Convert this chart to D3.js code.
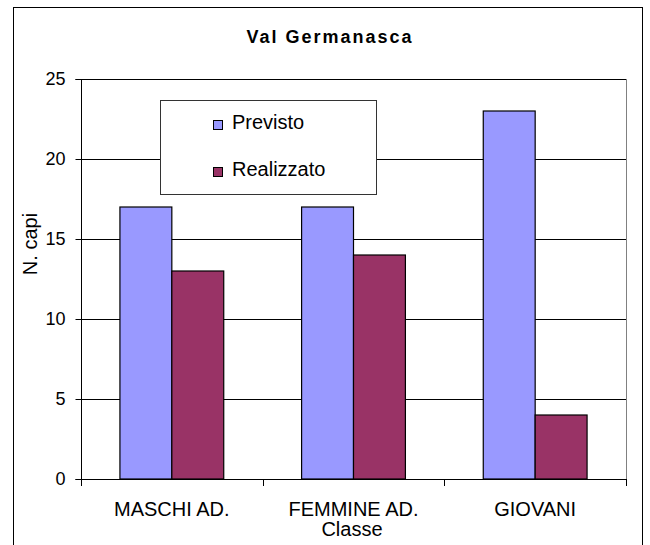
<!DOCTYPE html>
<html>
<head>
<meta charset="utf-8">
<script src="https://cdn.jsdelivr.net/npm/d3@7"></script>
<style>
  body { margin: 0; background: #fff; }
  text { font-family: "Liberation Sans", Arial, sans-serif; fill: #000; }
</style>
</head>
<body>
<svg id="chart" width="650" height="545"></svg>
<script>
const categories = ["MASCHI AD.", "FEMMINE AD.", "GIOVANI"];
const seriesNames = ["Previsto", "Realizzato"];
const previsto = [17, 17, 23];
const realizzato = [13, 14, 4];
const yTicks = [0, 5, 10, 15, 20, 25];
const colors = ["#9999FF", "#993366"];

const svg = d3.select("#chart");

// outer frame
svg.append("rect").attr("x", 13.5).attr("y", 7.5).attr("width", 629).attr("height", 560)
  .attr("fill", "none").attr("stroke", "#000").attr("stroke-width", 1);

const plot = { left: 81, right: 626, top: 79, bottom: 479 };

const x0 = d3.scaleBand().domain(categories).range([plot.left, plot.right]).paddingInner(0).paddingOuter(0);
const bw = x0.bandwidth() / 3.5;
const x1 = d3.scaleBand().domain(seriesNames).range([0.75 * bw, 2.75 * bw]);
const y = d3.scaleLinear().domain([0, 25]).range([plot.bottom, plot.top]);

// plot area border (right side gray)
svg.append("line").attr("x1", plot.right + 0.5).attr("x2", plot.right + 0.5)
  .attr("y1", plot.top).attr("y2", plot.bottom).attr("stroke", "#808080");

// gridlines
svg.append("g").selectAll("line").data(yTicks.filter(d => d > 0)).join("line")
  .attr("x1", plot.left).attr("x2", plot.right)
  .attr("y1", d => Math.round(y(d)) + 0.5).attr("y2", d => Math.round(y(d)) + 0.5)
  .attr("stroke", "#000");

// bars
const data = categories.map((c, i) => ({ cat: c, vals: [previsto[i], realizzato[i]] }));
const groups = svg.append("g").selectAll("g").data(data).join("g")
  .attr("transform", d => `translate(${x0(d.cat)},0)`);
groups.selectAll("rect").data(d => d.vals.map((v, j) => ({ v, s: seriesNames[j], j })))
  .join("rect")
  .attr("x", d => x1(d.s))
  .attr("y", d => y(d.v))
  .attr("width", x1.bandwidth())
  .attr("height", d => y(0) - y(d.v))
  .attr("fill", d => colors[d.j])
  .attr("stroke", "#000").attr("stroke-width", 1.2);

// y axis
const yAxis = d3.axisLeft(y).tickValues(yTicks).tickSize(6).tickPadding(10);
const gy = svg.append("g").attr("transform", `translate(${plot.left + 0.5},0)`).call(yAxis);
gy.selectAll("text").style("font-size", "18px").style("font-family", "Liberation Sans, Arial, sans-serif");
gy.selectAll("line").attr("stroke", "#000");
gy.select(".domain").attr("stroke", "#000").attr("d", `M-6,${plot.top + 0.5}H0V${plot.bottom + 0.5}H-6`);

// x axis
const xAxis = d3.axisBottom(x0).tickSize(0).tickPadding(0).tickFormat("");
const gx = svg.append("g").attr("transform", `translate(0,${plot.bottom + 0.5})`).call(xAxis);
gx.select(".domain").attr("stroke", "#000").attr("d", `M${plot.left},0H${plot.right}`);
gx.selectAll(".tick").remove();
// boundary ticks
const bounds = categories.map(c => x0(c)).concat([plot.right]);
svg.append("g").selectAll("line").data(bounds).join("line")
  .attr("x1", d => Math.round(d) + 0.5).attr("x2", d => Math.round(d) + 0.5)
  .attr("y1", plot.bottom).attr("y2", plot.bottom + 7).attr("stroke", "#000");
// category labels
svg.append("g").selectAll("text").data(categories).join("text")
  .attr("x", d => x0(d) + x0.bandwidth() / 2)
  .attr("y", 516).attr("text-anchor", "middle").style("font-size", "20px").text(d => d);

// axis titles
svg.append("text").attr("x", 352).attr("y", 536).attr("text-anchor", "middle")
  .style("font-size", "20px").text("Classe");
svg.append("text").attr("transform", "translate(37,244) rotate(-90)").attr("text-anchor", "middle")
  .style("font-size", "20px").text("N. capi");

// title
svg.append("text").attr("x", 330).attr("y", 43).attr("text-anchor", "middle")
  .style("font-size", "18px").style("font-weight", "bold").style("letter-spacing", "2px")
  .text("Val Germanasca");

// legend
const lg = svg.append("g");
lg.append("rect").attr("x", 160.5).attr("y", 100.5).attr("width", 216).attr("height", 94)
  .attr("fill", "#fff").attr("stroke", "#333");
const items = lg.selectAll("g").data(seriesNames).join("g")
  .attr("transform", (d, i) => `translate(213,${120 + i * 47})`);
items.append("rect").attr("x", 0.5).attr("y", 0.5).attr("width", 9).attr("height", 9)
  .attr("fill", (d, i) => colors[i]).attr("stroke", "#000");
items.append("text").attr("x", 19).attr("y", 9).style("font-size", "20px").text(d => d);
</script>
</body>
</html>
